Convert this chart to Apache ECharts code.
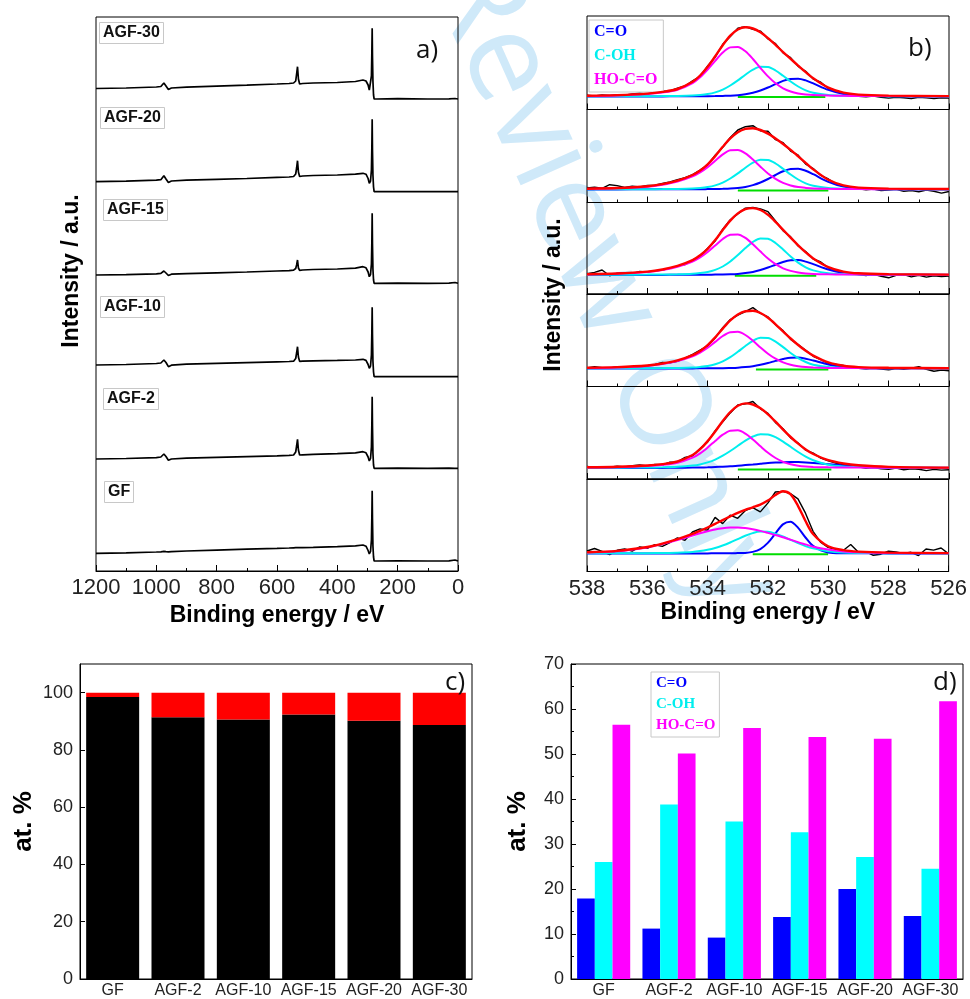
<!DOCTYPE html>
<html>
<head>
<meta charset="utf-8">
<script src="https://cdn.jsdelivr.net/npm/echarts@6/dist/echarts.min.js"></script>
<style>
  html, body { margin: 0; padding: 0; background: #fff; }
  #chart { width: 970px; height: 999px; }
</style>
</head>
<body>
<div id="chart"></div>
<script>
// ---------- a) survey spectra: binding energy (eV) and intensity (a.u., stacked) ----------
const surveyEnergy = [1200, 1100, 1000, 985, 975, 968, 960, 950, 900, 800, 700, 600, 560, 545, 538, 535, 532, 529, 525, 515, 480, 400, 340, 315, 305, 298, 294, 290, 287, 285.5, 284.5, 283.5, 282, 280, 278, 276, 270, 200, 100, 30, 10, 0];
const surveyAGF30 = [482.5, 483, 484, 484.5, 488, 485, 481.5, 483, 483.8, 484.8, 485.8, 487, 487.5, 488, 490, 497, 504.3, 492, 487, 487.5, 488, 488.5, 489.5, 491, 490, 486, 481, 483, 495, 520, 542.7, 515, 490, 476, 472, 472, 472, 472.3, 472, 472.2, 472.5, 472];
const surveyAGF20 = [389.3, 389.8, 390.8, 391.3, 395.3, 392, 388.5, 390, 390.8, 391.6, 392.5, 393.6, 394, 394.5, 397, 403, 410.3, 399, 394.5, 395, 395.5, 396, 396.8, 397.7, 396.8, 392.5, 387.7, 390, 401, 425, 451.7, 421, 396, 384, 379.3, 379.3, 379.3, 379.5, 379.3, 379.4, 379.3, 379.3];
const surveyAGF15 = [296, 296.4, 297.2, 297.6, 300, 298, 295.5, 296.8, 297.4, 298.2, 299, 300, 300.4, 300.8, 302.5, 306, 311, 303, 300.6, 301, 301.5, 302, 302.8, 304.3, 303.2, 299, 294.3, 296.5, 307, 330, 357.7, 327, 302, 291, 287.7, 287.7, 287.7, 287.9, 287.7, 287.8, 288.5, 287.7];
const surveyAGF10 = [206, 206.5, 207.5, 208, 211, 208.5, 204.3, 205.8, 206.8, 207.6, 208.4, 209.2, 209.5, 209.8, 212.5, 218, 224.3, 214, 209.6, 209.8, 210.2, 210.6, 211, 211.7, 210.6, 206.5, 202.7, 205, 216, 240, 263.7, 236, 210, 199, 194.3, 194.3, 194.3, 194.5, 194.3, 194.4, 194.3, 194.3];
const surveyAGF2 = [112, 112.5, 113.4, 114, 117, 114.5, 110.8, 112, 112.8, 113.6, 114.4, 115.2, 115.6, 116, 119, 125, 131.7, 121, 116, 116.2, 116.6, 117.4, 118.2, 119.3, 118.2, 114, 110, 112.5, 124, 148, 174.3, 145, 118, 106, 102.7, 102.7, 102.7, 102.9, 102.7, 102.8, 102.7, 102.7];
const surveyGF = [17.7, 18.2, 19, 19.2, 19.6, 19.4, 19.2, 19.4, 20, 20.9, 21.8, 22.6, 23, 23.2, 23.3, 23.6, 23.8, 23.4, 23.3, 23.4, 23.7, 24.4, 25.1, 26, 24.8, 20.5, 17, 19.5, 31, 55, 80.3, 52, 25, 14, 10, 10, 10, 10.2, 10, 10.1, 11, 10];
const sampleNames = ['AGF-30', 'AGF-20', 'AGF-15', 'AGF-10', 'AGF-2', 'GF'];

// ---------- b) O 1s high-resolution spectra with peak fits ----------
const o1sRawEnergy = [538, 537.75, 537.5, 537.25, 537, 536.75, 536.5, 536.25, 536, 535.75, 535.5, 535.25, 535, 534.75, 534.5, 534.25, 534, 533.75, 533.5, 533.25, 533, 532.75, 532.5, 532.25, 532, 531.75, 531.5, 531.25, 531, 530.75, 530.5, 530.25, 530, 529.75, 529.5, 529.25, 529, 528.75, 528.5, 528.25, 528, 527.75, 527.5, 527.25, 527, 526.75, 526.5, 526.25, 526];
const o1sFitEnergy = [538, 537, 536, 535.5, 535, 534.5, 534.25, 534, 533.75, 533.5, 533.25, 533, 532.75, 532.5, 532.25, 532, 531.75, 531.5, 531.25, 531, 530.75, 530.5, 530, 529.5, 529, 528, 526];

const rawAGF30 = [14.2, 13.6, 14.5, 14.0, 14.8, 14.3, 15.6, 16.2, 15.4, 17.2, 18.3, 18.6, 21.4, 23.5, 28.6, 33.2, 43.5, 52.4, 65.2, 73.1, 81.2, 82.8, 80.1, 78.4, 70.5, 65.8, 56.6, 51.8, 43.1, 38.2, 30.4, 27.3, 21.0, 18.6, 15.9, 14.2, 13.1, 12.6, 13.4, 12.2, 11.4, 12.3, 11.8, 11.0, 12.2, 11.6, 10.9, 11.8, 11.5];
const fitAGF30 = [13.8, 14.4, 15.9, 17.6, 20.5, 27.7, 34, 42.7, 53.2, 64.3, 73.8, 80, 82.2, 81, 77.2, 71.4, 64.6, 57.4, 50.6, 43.9, 37.3, 31.2, 21.8, 16.8, 14.9, 13.9, 13.4];
const coAGF30 = [13.1, 13.1, 13.1, 13.1, 13.2, 13.2, 13.3, 13.3, 13.4, 13.6, 13.8, 14.3, 15.2, 16.7, 19, 22, 25.4, 28.6, 30.6, 30.8, 29.1, 26.1, 19.6, 15.5, 13.9, 13.3, 13.1];
const cohAGF30 = [13.2, 13.2, 13.3, 13.4, 13.6, 14, 14.5, 15.4, 17.1, 19.9, 24, 29.1, 34.8, 39.8, 42.7, 42.4, 39, 33.7, 28, 23, 19.2, 16.7, 14.4, 13.7, 13.5, 13.3, 13.1];
const hocoAGF30 = [13.6, 14.1, 15.5, 17, 19.8, 26.5, 32.3, 40, 48.7, 56.9, 62.1, 62.6, 58.2, 50.5, 41.5, 33.1, 26.2, 21.2, 18, 16.1, 15, 14.4, 13.9, 13.7, 13.5, 13.4, 13.2];

const rawAGF20 = [14.5, 15.2, 14.2, 17.8, 16.9, 15.0, 16.4, 15.6, 17.0, 17.4, 19.0, 20.6, 22.8, 24.8, 27.9, 32.5, 37.6, 47.2, 55.3, 65.0, 72.5, 75.8, 76.8, 71.6, 71.2, 62.8, 59.9, 51.4, 47.3, 38.4, 34.0, 27.1, 23.5, 18.6, 16.4, 14.8, 13.6, 12.6, 13.5, 11.9, 12.4, 13.1, 11.2, 12.0, 10.8, 12.5, 11.3, 9.4, 11.0];
const fitAGF20 = [13.8, 14.5, 16.3, 18.4, 21.8, 27.5, 32, 38.2, 46.4, 55.7, 64.1, 70.3, 73.6, 74.2, 72.5, 68.9, 64, 58.5, 52.6, 46.2, 39.6, 33.1, 22.7, 17.1, 14.9, 13.9, 13.5];
const coAGF20 = [13.1, 13.1, 13.2, 13.2, 13.2, 13.3, 13.3, 13.4, 13.5, 13.7, 14, 14.6, 15.6, 17.4, 20, 23.5, 27.5, 31.2, 33.6, 33.8, 31.8, 28.3, 20.7, 15.9, 14.1, 13.3, 13.1];
const cohAGF20 = [13.2, 13.2, 13.3, 13.4, 13.6, 14, 14.5, 15.4, 17.1, 19.9, 24, 29.1, 34.8, 39.8, 42.7, 42.4, 39, 33.7, 28, 23, 19.2, 16.7, 14.4, 13.7, 13.5, 13.3, 13.1];
const hocoAGF20 = [13.6, 14.2, 15.8, 17.8, 21, 26.2, 30.2, 35.4, 41.8, 48.1, 52.2, 52.6, 49.2, 43, 35.8, 29, 23.6, 19.6, 17, 15.4, 14.6, 14.1, 13.7, 13.5, 13.4, 13.3, 13.2];

const rawAGF15 = [20.3, 21.6, 24.0, 18.2, 20.8, 21.2, 20.4, 22.6, 21.9, 23.1, 24.0, 25.8, 27.9, 29.4, 33.8, 37.9, 45.8, 53.1, 64.9, 74.2, 80.1, 85.9, 86.5, 85.1, 82.3, 73.0, 63.4, 57.1, 48.0, 42.5, 35.0, 32.0, 26.2, 24.0, 21.4, 20.6, 19.5, 18.4, 19.6, 17.8, 16.2, 18.6, 19.3, 17.1, 18.8, 16.9, 18.2, 17.5, 18.0];
const fitAGF15 = [19.8, 20.5, 22.4, 24.5, 28.1, 33.9, 38.7, 45.2, 53.9, 64, 73.4, 80.6, 84.8, 85.9, 84, 79.1, 72.1, 64.2, 56.3, 48.7, 41.7, 35.6, 26.9, 22.4, 20.7, 19.9, 19.4];
const coAGF15 = [19.1, 19.1, 19.1, 19.1, 19.2, 19.2, 19.2, 19.3, 19.4, 19.5, 19.7, 20.1, 20.9, 22.1, 24, 26.5, 29.3, 32, 33.7, 33.9, 32.4, 29.9, 24.5, 21.1, 19.8, 19.2, 19.1];
const cohAGF15 = [19.2, 19.3, 19.4, 19.5, 19.7, 20.2, 20.9, 22, 24.1, 27.5, 32.5, 38.9, 45.9, 52.1, 55.6, 55.2, 51, 44.5, 37.5, 31.4, 26.7, 23.6, 20.7, 19.9, 19.6, 19.3, 19.2];
const hocoAGF15 = [19.6, 20.2, 21.9, 23.9, 27.2, 32.5, 36.6, 42, 48.5, 55, 59.2, 59.6, 56.1, 49.7, 42.4, 35.4, 29.8, 25.7, 23.1, 21.5, 20.6, 20.1, 19.7, 19.5, 19.4, 19.3, 19.2];

const rawAGF10 = [18.6, 19.9, 18.9, 18.6, 19.7, 19.2, 18.4, 19.6, 20.8, 21.9, 24.0, 23.6, 25.1, 28.4, 32.2, 36.5, 40.7, 48.6, 58.8, 66.9, 71.4, 74.8, 78.9, 73.1, 69.6, 61.8, 55.9, 47.1, 41.9, 36.3, 30.2, 26.8, 23.2, 22.1, 21.0, 19.0, 18.3, 17.6, 18.2, 17.4, 16.8, 17.9, 17.1, 18.3, 19.8, 17.2, 15.2, 16.4, 15.8];
const fitAGF10 = [18.8, 19.4, 21, 23, 26.1, 31.4, 35.6, 41.4, 49.1, 57.9, 66.1, 72.1, 75.3, 75.7, 73.5, 68.7, 62.2, 55, 48, 41.5, 35.7, 30.9, 24.1, 20.7, 19.4, 18.7, 18.3];
const coAGF10 = [18, 18.1, 18.1, 18.1, 18.1, 18.1, 18.2, 18.2, 18.3, 18.3, 18.5, 18.8, 19.4, 20.3, 21.7, 23.5, 25.6, 27.5, 28.8, 28.9, 27.8, 26, 22, 19.5, 18.6, 18.2, 18.1];
const cohAGF10 = [18.2, 18.2, 18.3, 18.4, 18.6, 19, 19.6, 20.5, 22.3, 25.1, 29.3, 34.7, 40.5, 45.7, 48.7, 48.4, 44.8, 39.4, 33.5, 28.4, 24.5, 21.8, 19.4, 18.7, 18.5, 18.3, 18.1];
const hocoAGF10 = [18.6, 19.1, 20.6, 22.4, 25.4, 30.2, 33.9, 38.7, 44.6, 50.5, 54.3, 54.7, 51.5, 45.7, 39.1, 32.8, 27.8, 24.1, 21.7, 20.3, 19.4, 19, 18.6, 18.5, 18.4, 18.3, 18.2];

const rawAGF2 = [12.5, 11.6, 12.4, 11.9, 12.8, 12.1, 13.4, 14.0, 13.1, 14.6, 14.2, 16.8, 17.1, 21.6, 23.2, 30.4, 37.1, 48.3, 57.2, 66.1, 74.0, 75.1, 77.5, 70.2, 65.6, 56.4, 50.2, 41.1, 36.0, 28.8, 25.8, 20.9, 18.2, 15.8, 14.5, 12.9, 12.2, 10.8, 11.4, 10.1, 9.6, 10.9, 9.2, 10.3, 9.8, 8.4, 9.6, 8.9, 9.3];
const fitAGF2 = [11.8, 12.3, 13.5, 14.9, 17.5, 24, 29.8, 37.9, 47.5, 58, 67, 73.2, 75.6, 74.5, 70.7, 64.7, 57.3, 49.4, 42, 35.3, 29.5, 25, 18.8, 15.5, 13.7, 12.1, 11.4];
const coAGF2 = [11.1, 11.1, 11.1, 11.1, 11.2, 11.4, 11.5, 11.7, 12, 12.3, 12.7, 13.3, 13.9, 14.5, 15.2, 15.9, 16.4, 16.8, 17, 16.9, 16.6, 16.1, 14.8, 13.5, 12.5, 11.4, 11.1];
const cohAGF2 = [11.2, 11.3, 11.5, 11.7, 12.2, 13.4, 14.6, 16.6, 19.4, 23.3, 28, 33.2, 38.4, 42.5, 44.8, 44.6, 41.8, 37.4, 32.2, 27, 22.4, 18.8, 14.3, 12.5, 11.9, 11.4, 11.2];
const hocoAGF2 = [11.5, 11.8, 12.9, 14, 16.1, 21.3, 25.6, 31.5, 38.1, 44.3, 48.3, 48.7, 45.4, 39.5, 32.7, 26.2, 21, 17.2, 14.8, 13.3, 12.5, 12.1, 11.7, 11.5, 11.4, 11.3, 11.2];

const rawGF = [20.5, 23.0, 20.1, 16.8, 21.2, 22.5, 20.4, 24.6, 23.2, 26.8, 25.1, 28.9, 33.6, 31.2, 39.5, 42.6, 41.3, 54.1, 47.9, 56.3, 53.2, 60.8, 63.9, 59.6, 68.4, 79.5, 80.1, 77.8, 72.6, 58.3, 40.2, 29.4, 24.1, 22.3, 21.0, 27.0, 19.5, 19.8, 16.2, 17.3, 20.4, 19.6, 18.1, 19.2, 16.0, 22.5, 21.4, 23.5, 17.6];
const fitGF = [19.2, 20.6, 24.5, 27.9, 32.3, 37.6, 40.7, 44, 47.6, 51.4, 55.1, 58.7, 61.7, 64.2, 66.9, 70.9, 76.4, 80.3, 77.4, 65.7, 50.5, 37.5, 25.2, 21.4, 19.9, 18.9, 18.4];
const coGF = [18, 18, 18, 18.1, 18.1, 18.1, 18.1, 18.1, 18.2, 18.2, 18.2, 18.4, 18.6, 19.6, 22.4, 28.6, 38, 47.1, 49.8, 43.9, 34, 25.7, 19.1, 18.3, 18.2, 18.1, 18];
const cohGF = [18.2, 18.2, 18.3, 18.5, 18.8, 19.5, 20.4, 21.7, 23.5, 26, 29, 32.4, 35.7, 38.4, 39.9, 39.7, 37.9, 35.1, 31.7, 28.4, 25.4, 23.1, 20.2, 19, 18.6, 18.3, 18.1];
const hocoGF = [19, 20.3, 24.1, 27.4, 31.4, 36, 38.2, 40.2, 42, 43.2, 43.9, 44, 43.4, 42.2, 40.6, 38.6, 36.5, 34.2, 31.9, 29.4, 27.1, 24.8, 21.9, 20.1, 19.2, 18.5, 18.3];

// Shirley background segments (start eV, end eV, level)
const bgStart = [533.0, 533.0, 533.1, 532.4, 533.0, 532.5];
const bgEnd = [530.1, 530.0, 530.4, 530.0, 529.9, 530.0];
const bgLevel = [12.5, 12, 18.3, 17, 9.5, 17.3];

// ---------- c) and d) composition bars ----------
const barCategories = ['GF', 'AGF-2', 'AGF-10', 'AGF-15', 'AGF-20', 'AGF-30'];
const carbonPct = [98.5, 91.4, 90.6, 92.4, 90.2, 88.7];
const oxygenPct = [1.5, 8.6, 9.4, 7.6, 9.8, 11.3];
const coPct = [17.9, 11.2, 9.2, 13.8, 20.0, 14.0];
const cohPct = [26.0, 38.8, 35.0, 32.6, 27.1, 24.5];
const hocoPct = [56.5, 50.1, 55.8, 53.8, 53.4, 61.7];
const componentNames = ['C=O', 'C-OH', 'HO-C=O'];

// ---------- build the figure ----------
const SANS = 'Liberation Sans';
const SERIF = 'Liberation Serif';
const BLUE = '#0000ff', CYAN = '#00eeee', MAGENTA = '#ff00ff', RED = '#ff0000', GREEN = '#00dd00';
const pairs = (xs, ys) => xs.map((x, i) => [x, ys[i]]);
const plain = (v) => String(v);

const grids = [], xAxes = [], yAxes = [], series = [];
const frame = { show: true, borderColor: '#000', borderWidth: 1, backgroundColor: 'transparent' };
const tickLabel = { fontFamily: SANS, fontSize: 22, color: '#222', formatter: plain };
const axisName = { fontFamily: SANS, fontSize: 23, fontWeight: 'bold', color: '#000' };

// panel a
grids.push(Object.assign({ left: 96, top: 17, width: 362, height: 554 }, frame));
xAxes.push({
  type: 'value', gridIndex: 0, min: 0, max: 1200, interval: 200, inverse: true,
  axisLine: { lineStyle: { color: '#000' } },
  axisTick: { inside: true, length: 6, lineStyle: { color: '#000' } },
  minorTick: { show: true, splitNumber: 2, length: 3, lineStyle: { color: '#000' } },
  splitLine: { show: false },
  axisLabel: Object.assign({ margin: 6 }, tickLabel),
  name: 'Binding energy / eV', nameLocation: 'middle', nameGap: 32, nameTextStyle: axisName
});
yAxes.push({ type: 'value', gridIndex: 0, min: 0, max: 554, show: false });
const surveySets = [surveyAGF30, surveyAGF20, surveyAGF15, surveyAGF10, surveyAGF2, surveyGF];
surveySets.forEach((vals, i) => {
  series.push({
    type: 'line', name: sampleNames[i], xAxisIndex: 0, yAxisIndex: 0,
    data: pairs(surveyEnergy, vals), showSymbol: false, silent: true,
    lineStyle: { color: '#000', width: 1.7 }, z: 3
  });
});

// panel b: six stacked O 1s windows
const subTops = [16, 109.5, 202.5, 294, 386.5, 479];
const subHeights = [93.5, 93, 91.5, 92.5, 92.5, 92.5];
const o1sSets = [
  [rawAGF30, fitAGF30, coAGF30, cohAGF30, hocoAGF30],
  [rawAGF20, fitAGF20, coAGF20, cohAGF20, hocoAGF20],
  [rawAGF15, fitAGF15, coAGF15, cohAGF15, hocoAGF15],
  [rawAGF10, fitAGF10, coAGF10, cohAGF10, hocoAGF10],
  [rawAGF2, fitAGF2, coAGF2, cohAGF2, hocoAGF2],
  [rawGF, fitGF, coGF, cohGF, hocoGF]
];
o1sSets.forEach((set, i) => {
  const gi = 1 + i;
  const last = i === o1sSets.length - 1;
  grids.push(Object.assign({ left: 587, top: subTops[i], width: 362, height: subHeights[i] }, frame));
  xAxes.push({
    type: 'value', gridIndex: gi, min: 526, max: 538, interval: 2, inverse: true,
    axisLine: { lineStyle: { color: '#000' } },
    axisTick: { inside: true, length: 6, lineStyle: { color: '#000' } },
    minorTick: { show: true, splitNumber: 2, length: 3, lineStyle: { color: '#000' } },
    splitLine: { show: false },
    axisLabel: Object.assign({ show: last, margin: 6 }, tickLabel),
    name: last ? 'Binding energy / eV' : '', nameLocation: 'middle', nameGap: 30, nameTextStyle: axisName
  });
  yAxes.push({ type: 'value', gridIndex: gi, min: 0, max: subHeights[i], show: false });
  const [raw, fit, co, coh, hoco] = set;
  const common = { type: 'line', xAxisIndex: gi, yAxisIndex: gi, showSymbol: false, silent: true };
  series.push(Object.assign({ name: 'data', data: pairs(o1sRawEnergy, raw), lineStyle: { color: '#000', width: 1.4 }, z: 2 }, common));
  series.push(Object.assign({ name: 'background', data: [[bgStart[i], bgLevel[i]], [bgEnd[i], bgLevel[i]]], lineStyle: { color: GREEN, width: 2 }, z: 3 }, common));
  series.push(Object.assign({ name: componentNames[0], data: pairs(o1sFitEnergy, co), smooth: 0.3, lineStyle: { color: BLUE, width: 2 }, itemStyle: { color: BLUE }, z: 4 }, common));
  series.push(Object.assign({ name: componentNames[1], data: pairs(o1sFitEnergy, coh), smooth: 0.3, lineStyle: { color: CYAN, width: 2 }, itemStyle: { color: CYAN }, z: 5 }, common));
  series.push(Object.assign({ name: componentNames[2], data: pairs(o1sFitEnergy, hoco), smooth: 0.3, lineStyle: { color: MAGENTA, width: 2 }, itemStyle: { color: MAGENTA }, z: 6 }, common));
  series.push(Object.assign({ name: 'envelope', data: pairs(o1sFitEnergy, fit), smooth: 0.3, lineStyle: { color: RED, width: 2.4 }, z: 7 }, common));
});

// panel c
const barTickLabel = { fontFamily: SANS, fontSize: 18, color: '#222' };
const catLabel = { fontFamily: SANS, fontSize: 16, color: '#222', margin: 4, interval: 0 };
const pctName = { fontFamily: SANS, fontSize: 26, fontWeight: 'bold', color: '#000' };
grids.push(Object.assign({ left: 80, top: 664, width: 392, height: 316 }, frame));
xAxes.push({
  type: 'category', gridIndex: 7, data: barCategories,
  axisLine: { lineStyle: { color: '#000' } },
  axisTick: { alignWithLabel: true, inside: true, length: 5, lineStyle: { color: '#000' } },
  axisLabel: catLabel
});
yAxes.push({
  type: 'value', gridIndex: 7, min: 0, max: 110, interval: 20,
  axisLine: { show: true, lineStyle: { color: '#000' } },
  axisTick: { show: true, inside: true, length: 5, lineStyle: { color: '#000' } },
  splitLine: { show: false },
  axisLabel: Object.assign({ margin: 7, showMaxLabel: false }, barTickLabel),
  name: 'at. %', nameLocation: 'middle', nameGap: 43, nameTextStyle: pctName
});
series.push({ type: 'bar', name: 'C', xAxisIndex: 7, yAxisIndex: 7, stack: 'total', data: carbonPct, barWidth: 53, itemStyle: { color: '#000' }, silent: true });
series.push({ type: 'bar', name: 'O', xAxisIndex: 7, yAxisIndex: 7, stack: 'total', data: oxygenPct, barWidth: 53, itemStyle: { color: RED }, silent: true });

// panel d
grids.push(Object.assign({ left: 571, top: 664, width: 392, height: 316 }, frame));
xAxes.push({
  type: 'category', gridIndex: 8, data: barCategories,
  axisLine: { lineStyle: { color: '#000' } },
  axisTick: { alignWithLabel: true, inside: true, length: 5, lineStyle: { color: '#000' } },
  axisLabel: catLabel
});
yAxes.push({
  type: 'value', gridIndex: 8, min: 0, max: 70, interval: 10,
  axisLine: { show: true, lineStyle: { color: '#000' } },
  axisTick: { show: true, inside: true, length: 5, lineStyle: { color: '#000' } },
  minorTick: { show: true, splitNumber: 2, length: 3, lineStyle: { color: '#000' } },
  splitLine: { show: false },
  axisLabel: Object.assign({ margin: 7 }, barTickLabel),
  name: 'at. %', nameLocation: 'middle', nameGap: 40, nameTextStyle: pctName
});
[[coPct, BLUE], [cohPct, '#00ffff'], [hocoPct, MAGENTA]].forEach(([vals, color], k) => {
  series.push({
    type: 'bar', name: componentNames[k], xAxisIndex: 8, yAxisIndex: 8, data: vals,
    barWidth: 17.7, barGap: '0%', itemStyle: { color }, silent: true
  });
});

// labels
const sampleBoxes = [[99, 22], [100, 107], [103, 199], [100, 296], [103, 388], [104, 481]];
const titles = sampleNames.map((t, i) => ({
  text: t, left: sampleBoxes[i][0], top: sampleBoxes[i][1], padding: [3, 4],
  borderColor: '#c8c8c8', borderWidth: 1, backgroundColor: '#fff',
  textStyle: { fontFamily: SANS, fontSize: 16, fontWeight: 'bold', color: '#111' }
}));
const panelTag = { fontFamily: 'Open Sans', fontSize: 26, fontWeight: 'normal', color: '#111' };
[['a)', 416, 38], ['b)', 908, 36], ['c)', 445, 670], ['d)', 933, 670]].forEach(([t, x, y]) => {
  titles.push({ text: t, left: x, top: y, padding: 0, textStyle: panelTag });
});

const legendCommon = {
  orient: 'vertical', icon: 'rect', itemWidth: 0, selectedMode: false,
  itemStyle: { opacity: 0 }, borderColor: '#c8c8c8', borderWidth: 1, backgroundColor: '#fff'
};
const legendData = (size) => componentNames.map((n, k) => ({
  name: n, textStyle: { color: [BLUE, '#00eeee', MAGENTA][k], fontFamily: SERIF, fontWeight: 'bold', fontSize: size }
}));

const option = {
  animation: false,
  backgroundColor: '#fff',
  grid: grids, xAxis: xAxes, yAxis: yAxes, series: series,
  title: titles,
  legend: [
    Object.assign({ left: 589, top: 20, padding: [4, 6, 4, 0], itemHeight: 16, itemGap: 8, data: legendData(16) }, legendCommon),
    Object.assign({ left: 651, top: 672, padding: [4, 4, 4, 0], itemHeight: 15, itemGap: 6, data: legendData(15) }, legendCommon)
  ],
  graphic: [
    { type: 'text', x: 603, y: 283, rotation: -1.15, z: -1,
      style: { text: 'Review Only', fontFamily: 'Open Sans', fontSize: 124, fill: '#cfe9f9', align: 'center', verticalAlign: 'middle' } },
    { type: 'text', x: 72, y: 271, rotation: Math.PI / 2,
      style: { text: 'Intensity / a.u.', fontFamily: SANS, fontSize: 23, fontWeight: 'bold', fill: '#000', align: 'center', verticalAlign: 'middle' } },
    { type: 'text', x: 554, y: 295, rotation: Math.PI / 2,
      style: { text: 'Intensity / a.u.', fontFamily: SANS, fontSize: 23, fontWeight: 'bold', fill: '#000', align: 'center', verticalAlign: 'middle' } }
  ]
};

const chart = echarts.init(document.getElementById('chart'), null, { renderer: 'canvas' });
chart.setOption(option);
</script>
</body>
</html>
